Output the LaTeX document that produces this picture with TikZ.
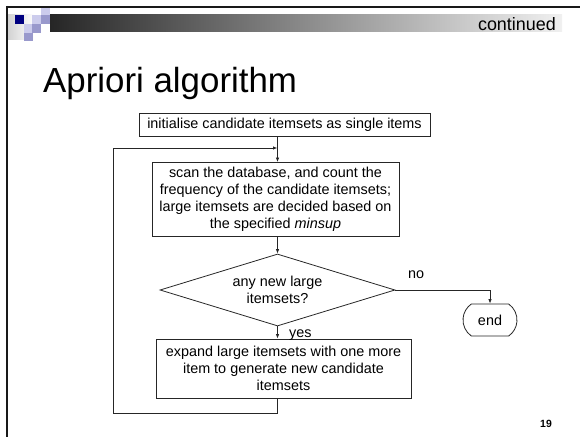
\documentclass[tikz,border=0pt]{standalone}
\usepackage{fontspec}
\setmainfont{Liberation Sans}
\usetikzlibrary{arrows.meta,shapes.geometric,shapes.misc}
\definecolor{navysq}{RGB}{0,0,128}
\definecolor{lightsq}{RGB}{204,204,236}
\definecolor{medsq}{RGB}{153,153,204}
\definecolor{bardark}{RGB}{38,38,38}
\definecolor{barlight}{RGB}{240,240,240}
\tikzset{
  box/.style={draw=black!85, line width=0.8bp, inner sep=0pt, align=center, font=\fontsize{14.45}{17}\selectfont},
  arr/.style={draw=black!85, line width=0.8bp, -{Latex[length=4.5bp,width=3.5bp]}},
  lbl/.style={font=\fontsize{14.45}{17}\selectfont, inner sep=0pt},
  frameline/.style={draw=black!90, line width=2.5bp}
}
\begin{document}
\begin{tikzpicture}[x=1bp,y=-1bp]
\useasboundingbox (0,0) rectangle (580,437);
% header decoration
\shade[left color=gray!35, right color=white] (8,15) rectangle (34,40);
\shade[left color=bardark, right color=barlight] (50,15) rectangle (562,32);
\fill[navysq] (15,15) rectangle (24,24);
\fill[lightsq] (41,6) rectangle (50,15);
\fill[lightsq] (32,15) rectangle (41,24);
\fill[lightsq] (24,24) rectangle (32,33);
\fill[medsq] (41,15) rectangle (50,24);
\fill[medsq] (32,24) rectangle (41,33);
\fill[medsq] (24,33) rectangle (33,41);
\draw[frameline] (6,7) -- (580,7);
\draw[frameline] (7,6) -- (7,437);
\node[anchor=base east, inner sep=0pt, font=\fontsize{18}{20}\selectfont] (cont) at (556,31) {continued};
\node[anchor=base west, inner sep=0pt, font=\fontsize{35}{40}\selectfont] (title) at (43,93) {Apriori algorithm};
\node[anchor=base, inner sep=0pt, font=\bfseries\fontsize{10.5}{12}\selectfont] (pg) at (546,427) {19};
% flowchart
\node[box, minimum width=291bp, minimum height=23bp] (init) at (284.5,124.5) {initialise candidate itemsets as single items};
\node[box, minimum width=247bp, minimum height=74bp] (scan) at (275.5,199.5) {scan the database, and count the\\frequency of the candidate itemsets;\\large itemsets are decided based on\\the specified \textit{minsup}};
\node[box, diamond, aspect=3.2, minimum width=235bp, minimum height=72bp] (dec) at (277.5,290) {any new large\\itemsets?};
\node[box, rounded rectangle, rounded rectangle arc length=110, minimum width=54bp, minimum height=32bp] (end) at (490,320) {end};
\node[box, minimum width=255bp, minimum height=59bp] (exp) at (283.5,368.5) {expand large itemsets with one more\\item to generate new candidate\\itemsets};
\coordinate (lb) at (113,413);
\coordinate (lt) at (113,148);
\draw[arr] (init.south -| dec.north) -- (scan.north -| dec.north);
\draw[arr] (scan.south -| dec.north) -- (dec.north);
\draw[arr] (dec.south) -- (exp.north -| dec.south);
\draw[arr] (dec.east) -| (end.north);
\draw[arr] (exp.south -| dec.north) |- (lb) -- (lt) -- (lt -| dec.north);
\node[lbl, anchor=base west] (yes) at (289,337) {yes};
\node[lbl, anchor=base west] (no) at (408,279) {no};
\end{tikzpicture}
\end{document}
